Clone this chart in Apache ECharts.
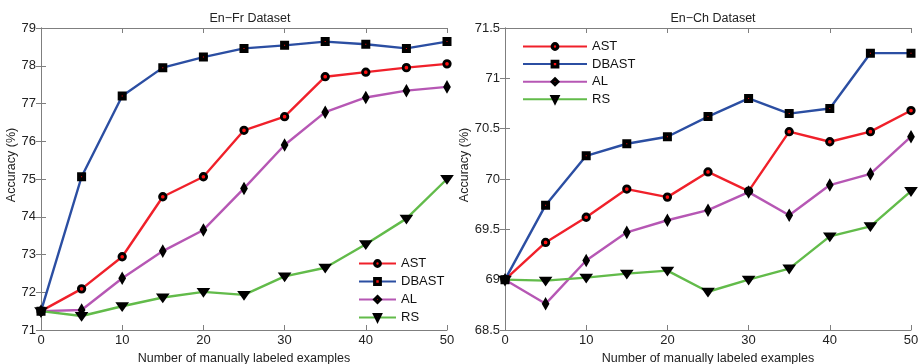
<!DOCTYPE html>
<html><head><meta charset="utf-8">
<script src="https://cdn.jsdelivr.net/npm/echarts@6/dist/echarts.min.js"></script>
<style>html,body{margin:0;padding:0;background:#fff}#c{width:923px;height:364px}</style>
</head><body><div id="c"></div>
<script>
const xValues = [0,5,10,15,20,25,30,35,40,45,50];
const seriesNames = ['AST','DBAST','AL','RS'];
const titles = ['En\u2212Fr Dataset','En\u2212Ch Dataset'];
// En-Fr
const frAST   = [71.5,72.09,72.94,74.53,75.06,76.29,76.65,77.71,77.83,77.95,78.05];
const frDBAST = [71.5,75.06,77.2,77.95,78.23,78.46,78.54,78.64,78.57,78.46,78.64];
const frAL    = [71.5,71.53,72.37,73.09,73.65,74.75,75.9,76.77,77.16,77.34,77.44];
const frRS    = [71.5,71.37,71.63,71.86,72.01,71.93,72.42,72.65,73.27,73.95,75.0];
// En-Ch
const chAST   = [69.0,69.37,69.62,69.9,69.82,70.07,69.88,70.47,70.37,70.47,70.68];
const chDBAST = [69.0,69.74,70.23,70.35,70.42,70.62,70.8,70.65,70.7,71.25,71.25];
const chAL    = [69.0,68.76,69.19,69.47,69.59,69.69,69.87,69.64,69.94,70.05,70.42];
const chRS    = [69.0,68.99,69.02,69.06,69.09,68.88,69.0,69.11,69.43,69.53,69.88];

const colors = {AST:'#f0202a', DBAST:'#2b4ea2', AL:'#b657b4', RS:'#62bb4a'};
const symbols = {
  AST:{symbol:'circle', size:6.5, bw:2.8},
  DBAST:{symbol:'rect', size:5, bw:4},
  AL:{symbol:'diamond', size:[4,7], bw:3.5},
  RS:{symbol:'triangle', size:[7,5], bw:3.5, rot:180}
};
const FONT = 'Liberation Sans, Arial, sans-serif';
const axisGrey = '#7f7f7f';

function mk(name, data, gi){
  const s = symbols[name];
  return {
    name, type:'line', xAxisIndex:gi*2, yAxisIndex:gi*2,
    data: xValues.map((x,i)=>[x,data[i]]),
    symbol:s.symbol, symbolSize:s.size, symbolRotate:s.rot||0,
    showAllSymbol:true, clip:false,
    lineStyle:{color:colors[name], width:2.4},
    itemStyle:{color:'#ff1010', borderColor:'#000', borderWidth:s.bw},
    z: 3,
    animation:false
  };
}
const grids = [
  {left:41, top:28, width:406, height:302, outerBoundsMode:'none', containLabel:false},
  {left:505, top:28, width:406, height:302, outerBoundsMode:'none', containLabel:false}
];
const yRanges = [{min:71,max:79,interval:1},{min:68.5,max:71.5,interval:0.5}];
const xAxes = [], yAxes = [];
for (let g=0; g<2; g++){
  xAxes.push({type:'value', gridIndex:g, min:0, max:50, interval:10, position:'bottom',
    name:'Number of manually labeled examples', nameLocation:'middle', nameGap:20,
    nameTextStyle:{fontFamily:FONT, fontSize:12.5, color:'#222'},
    axisLine:{lineStyle:{color:axisGrey, width:1}},
    axisTick:{inside:true, length:5, lineStyle:{color:axisGrey}},
    axisLabel:{fontFamily:FONT, fontSize:13, color:'#222', margin:4},
    splitLine:{show:false}});
  xAxes.push({type:'value', gridIndex:g, min:0, max:50, interval:10, position:'top',
    axisLine:{lineStyle:{color:axisGrey, width:1}},
    axisTick:{inside:true, length:5, lineStyle:{color:axisGrey}},
    axisLabel:{show:false}, splitLine:{show:false}});
  const r = yRanges[g];
  yAxes.push({type:'value', gridIndex:g, min:r.min, max:r.max, interval:r.interval, position:'left',
    name:'Accuracy (%)', nameLocation:'middle', nameGap:g===0?23:31,
    nameTextStyle:{fontFamily:FONT, fontSize:12.5, color:'#222', padding:[0,0,0,28]},
    axisLine:{show:true, lineStyle:{color:axisGrey, width:1}},
    axisTick:{show:true, inside:true, length:5, lineStyle:{color:axisGrey}},
    axisLabel:{fontFamily:FONT, fontSize:13, color:'#222', margin:5},
    splitLine:{show:false}});
  yAxes.push({type:'value', gridIndex:g, min:r.min, max:r.max, interval:r.interval, position:'right',
    axisLine:{show:true, lineStyle:{color:axisGrey, width:1}},
    axisTick:{show:true, inside:true, length:5, lineStyle:{color:axisGrey}},
    axisLabel:{show:false}, splitLine:{show:false}});
}
const series = [
  mk('AST',frAST,0), mk('DBAST',frDBAST,0), mk('AL',frAL,0), mk('RS',frRS,0),
  mk('AST',chAST,1), mk('DBAST',chDBAST,1), mk('AL',chAL,1), mk('RS',chRS,1)
];
const legendText = {fontFamily:FONT, fontSize:13, color:'#111'};
const legendItem = {color:'#ff1010', borderColor:'#000', borderWidth:3.2};
const option = {
  backgroundColor:'#fff',
  animation:false,
  title:[
    {text:titles[0], left:245, top:7, textAlign:'center', textStyle:{fontFamily:FONT, fontSize:12.5, fontWeight:'normal', color:'#222'}},
    {text:titles[1], left:708, top:7, textAlign:'center', textStyle:{fontFamily:FONT, fontSize:12.5, fontWeight:'normal', color:'#222'}}
  ],
  grid:grids, xAxis:xAxes, yAxis:yAxes,
  legend:[
    {data:seriesNames, orient:'vertical', left:358, top:257, itemWidth:37, itemHeight:7, itemGap:5,
     itemStyle:legendItem, textStyle:legendText, selectedMode:false, padding:0},
    {data:seriesNames, orient:'vertical', left:522, top:40, itemWidth:64, itemHeight:7, itemGap:4.6,
     itemStyle:legendItem, textStyle:legendText, selectedMode:false, padding:0}
  ],
  series
};
const chart = echarts.init(document.getElementById('c'), null, {renderer:'canvas'});
chart.setOption(option);
</script></body></html>
